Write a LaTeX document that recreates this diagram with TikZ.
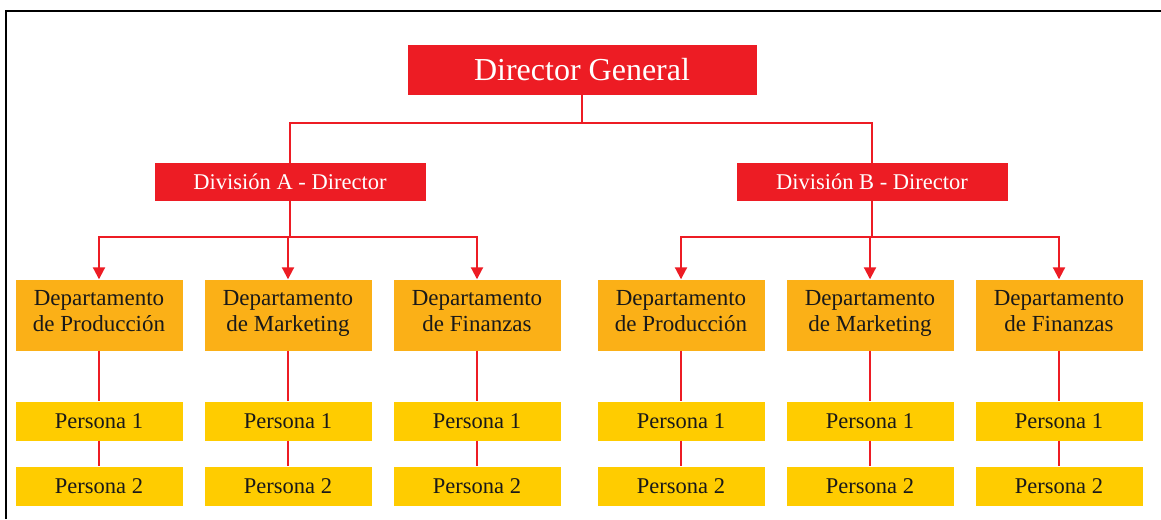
\documentclass[tikz,border=0pt]{standalone}
\usepackage{fontspec}
\setmainfont{Liberation Serif}
\definecolor{orgred}{HTML}{ED1C24}
\definecolor{deptorange}{HTML}{FBB017}
\definecolor{peryellow}{HTML}{FFCC00}
\tikzset{
  dgbox/.style={fill=orgred,text=white,minimum width=349pt,minimum height=50pt,inner sep=0pt,font=\fontsize{32}{34}\selectfont},
  divbox/.style={fill=orgred,text=white,minimum width=271pt,minimum height=38pt,inner sep=0pt,font=\fontsize{22.5}{24}\selectfont},
  deptbox/.style={fill=deptorange,text=black!90,minimum width=167pt,minimum height=71pt,inner sep=0pt,align=center,font=\fontsize{23}{26}\selectfont,execute at begin node={\rule{0pt}{25pt}},execute at end node=\strut},
  perbox/.style={fill=peryellow,text=black!90,minimum width=167pt,minimum height=39pt,inner sep=0pt,font=\fontsize{22.5}{24}\selectfont},
  link/.style={orgred,line width=2pt},
  linkarr/.style={link,-{Triangle[width=12pt,length=12pt]}}
}
\usetikzlibrary{arrows.meta}
\begin{document}
\begin{tikzpicture}[x=1pt,y=-1pt]
\useasboundingbox (0,0) rectangle (1161,519);
\draw[fill=white,white] (0,0) rectangle (1161,519);
% frame
\draw[line width=2pt] (6,519) -- (6,11) -- (1161,11);
% boxes
\node[dgbox] (dg) at (582,70) {Director General};
\node[divbox] (divA) at (290,182) {División A - Director};
\node[divbox] (divB) at (872,182) {División B - Director};
\node[deptbox] (depA1) at (99,315) {Departamento\\de Producción};
\node[deptbox] (depA2) at (288,315) {Departamento\\de Marketing};
\node[deptbox] (depA3) at (477,315) {Departamento\\de Finanzas};
\node[deptbox] (depB1) at (681,315) {Departamento\\de Producción};
\node[deptbox] (depB2) at (870,315) {Departamento\\de Marketing};
\node[deptbox] (depB3) at (1059,315) {Departamento\\de Finanzas};
\node[perbox] (perA1a) at (99,421) {Persona 1};
\node[perbox] (perA2a) at (288,421) {Persona 1};
\node[perbox] (perA3a) at (477,421) {Persona 1};
\node[perbox] (perB1a) at (681,421) {Persona 1};
\node[perbox] (perB2a) at (870,421) {Persona 1};
\node[perbox] (perB3a) at (1059,421) {Persona 1};
\node[perbox] (perA1b) at (99,486) {Persona 2};
\node[perbox] (perA2b) at (288,486) {Persona 2};
\node[perbox] (perA3b) at (477,486) {Persona 2};
\node[perbox] (perB1b) at (681,486) {Persona 2};
\node[perbox] (perB2b) at (870,486) {Persona 2};
\node[perbox] (perB3b) at (1059,486) {Persona 2};
% connectors
\draw[link] (dg.south) -- ++(0,28) -| (divA.north);
\draw[link] (dg.south) -- ++(0,28) -| (divB.north);
\draw[linkarr] (divA.south) -- ++(0,36) -| (depA1.north);
\draw[linkarr] (divA.south) -- ++(0,36) -| (depA2.north);
\draw[linkarr] (divA.south) -- ++(0,36) -| (depA3.north);
\draw[linkarr] (divB.south) -- ++(0,36) -| (depB1.north);
\draw[linkarr] (divB.south) -- ++(0,36) -| (depB2.north);
\draw[linkarr] (divB.south) -- ++(0,36) -| (depB3.north);
\draw[link] (depA1) -- (perA1a) -- (perA1b);
\draw[link] (depA2) -- (perA2a) -- (perA2b);
\draw[link] (depA3) -- (perA3a) -- (perA3b);
\draw[link] (depB1) -- (perB1a) -- (perB1b);
\draw[link] (depB2) -- (perB2a) -- (perB2b);
\draw[link] (depB3) -- (perB3a) -- (perB3b);
\end{tikzpicture}
\end{document}
